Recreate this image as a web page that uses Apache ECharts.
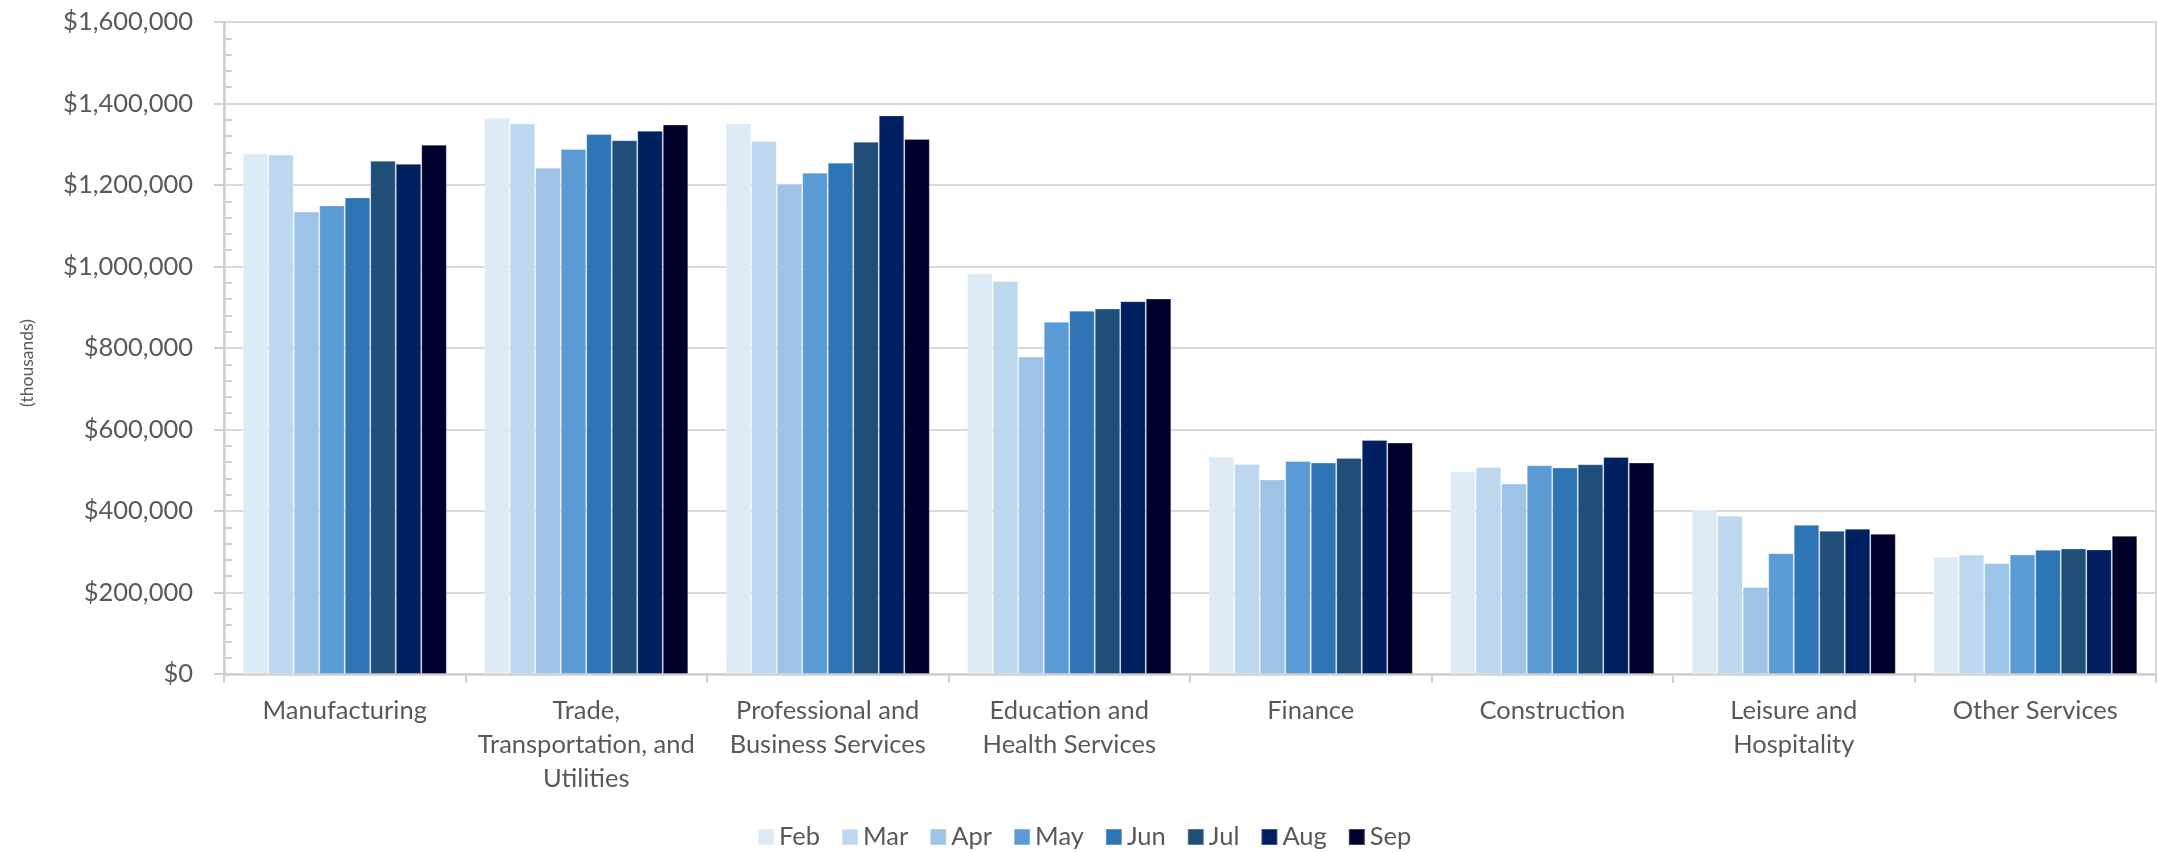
<!DOCTYPE html>
<html>
<head>
<meta charset="utf-8">
<script src="https://cdn.jsdelivr.net/npm/echarts@6/dist/echarts.min.js"></script>
<style>
html,body{margin:0;padding:0;background:#fff;}
#chart{width:2158px;height:852px;}
</style>
</head>
<body>
<div id="chart"></div>
<script>
const categories = ['Manufacturing', 'Trade, Transportation, and Utilities', 'Professional and Business Services', 'Education and Health Services', 'Finance', 'Construction', 'Leisure and Hospitality', 'Other Services'];
const months = ['Feb', 'Mar', 'Apr', 'May', 'Jun', 'Jul', 'Aug', 'Sep'];
const feb = [1277000, 1365000, 1351000, 983000, 533500, 496700, 403600, 288400];
const mar = [1275000, 1351000, 1308000, 964400, 515500, 508200, 388100, 293300];
const apr = [1134800, 1242500, 1203200, 779000, 477100, 467300, 213200, 272000];
const may = [1149800, 1288400, 1230300, 864200, 522900, 512300, 296600, 293300];
const jun = [1169500, 1324900, 1254700, 891400, 518800, 506500, 366000, 304700];
const jul = [1259400, 1309900, 1306200, 897000, 530200, 514700, 351300, 308000];
const aug = [1251900, 1333300, 1370800, 914800, 574300, 532700, 356200, 305600];
const sep = [1298700, 1348300, 1312700, 921300, 567800, 518800, 344000, 339000];
const yTicks = [0, 200000, 400000, 600000, 800000, 1000000, 1200000, 1400000, 1600000];
const yAxisTitle = '(thousands)';
const labelWraps = {
  'Trade, Transportation, and Utilities': 'Trade,\nTransportation, and\nUtilities',
  'Professional and Business Services': 'Professional and\nBusiness Services',
  'Education and Health Services': 'Education and\nHealth Services',
  'Leisure and Hospitality': 'Leisure and\nHospitality'
};

const seriesValues = [feb, mar, apr, may, jun, jul, aug, sep];
const colors = ['#DDEBF7', '#BDD7EE', '#9DC3E6', '#5B9BD5', '#2E75B6', '#1F4E79', '#002060', '#00002E'];
const FONT = 'Lato';
const TXT = '#595959';
const yMin = yTicks[0], yMax = yTicks[yTicks.length - 1], yInt = yTicks[1] - yTicks[0];

const chart = echarts.init(document.getElementById('chart'), null, {renderer: 'canvas'});
chart.setOption({
  animation: false,
  backgroundColor: '#ffffff',
  color: colors,
  textStyle: {fontFamily: FONT},
  grid: {left: 224, right: 2, top: 22, bottom: 178, show: true, borderColor: '#D9D9D9', borderWidth: 2, backgroundColor: 'transparent'},
  legend: {
    data: months,
    left: 757,
    top: 824,
    padding: 0,
    itemWidth: 16,
    itemHeight: 16,
    itemGap: 21,
    icon: 'rect',
    textStyle: {fontFamily: FONT, fontSize: 25.5, color: TXT}
  },
  xAxis: {
    type: 'category',
    data: categories,
    axisLine: {show: true, lineStyle: {color: '#D0D0D0', width: 2.5}},
    axisTick: {show: true, length: 9, lineStyle: {color: '#D0D0D0', width: 2}},
    axisLabel: {
      margin: 20,
      interval: 0,
      fontFamily: FONT,
      fontSize: 25.5,
      lineHeight: 34,
      color: TXT,
      formatter: v => labelWraps[v] || v
    },
    splitLine: {show: false}
  },
  yAxis: [{
    type: 'value',
    min: yMin,
    max: yMax,
    interval: yInt,
    name: yAxisTitle,
    nameLocation: 'middle',
    nameRotate: 90,
    nameGap: 188,
    nameTextStyle: {fontFamily: FONT, fontSize: 17.5, color: TXT, padding: [0, 30, 0, 0]},
    axisLine: {show: true, lineStyle: {color: '#D0D0D0', width: 2.5}},
    axisTick: {show: true, length: 10, lineStyle: {color: '#D0D0D0', width: 2}},
    axisLabel: {
      margin: 31,
      fontFamily: FONT,
      fontSize: 25.5,
      color: TXT,
      formatter: v => '$' + Number(v).toLocaleString('en-US')
    },
    splitLine: {show: true, lineStyle: {color: '#D9D9D9', width: 2}}
  }, {
    type: 'value',
    position: 'left',
    min: yMin,
    max: yMax,
    interval: yInt,
    axisLine: {show: false},
    axisTick: {show: false, inside: true},
    axisLabel: {show: false},
    splitLine: {show: false},
    minorTick: {show: true, splitNumber: 5, length: 8, lineStyle: {color: '#D0D0D0', width: 2}}
  }],
  series: months.map((m, i) => ({
    name: m,
    type: 'bar',
    yAxisIndex: 0,
    data: seriesValues[i],
    barGap: '0%',
    barCategoryGap: '15.5%',
    itemStyle: {color: colors[i], borderColor: 'rgba(255,255,255,0.25)', borderWidth: 1}
  }))
});
</script>
</body>
</html>
